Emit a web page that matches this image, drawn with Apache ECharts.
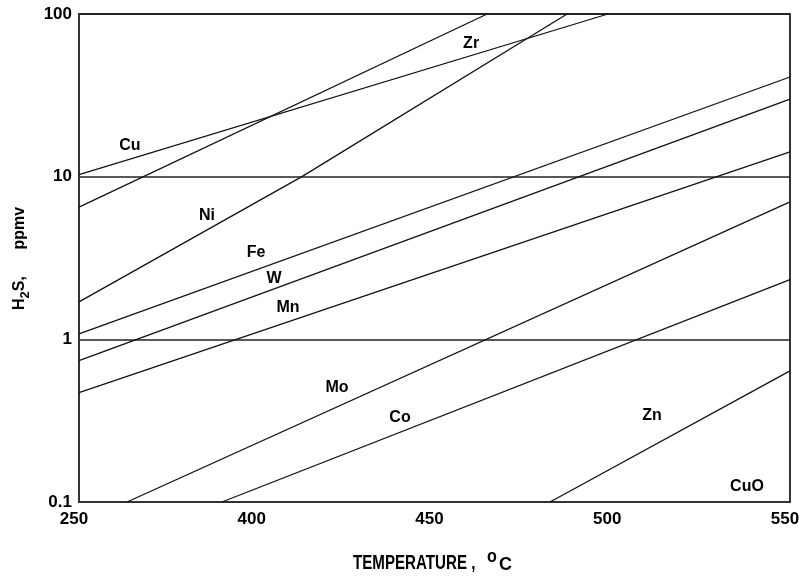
<!DOCTYPE html>
<html>
    <head>
        <meta charset="utf-8">
        <title>H2S vs temperature</title>
        <script src="https://cdn.jsdelivr.net/npm/echarts@6/dist/echarts.min.js"></script>
    </head>
    <body style="margin:0;background:#fff;overflow:hidden;">
        <div id="main" style="width: 799px;height:576px;"></div>
        <script type="text/javascript">
            // tick labels as printed on the chart (first one reads 250)
            var xTickLabels = ['250', '400', '450', '500', '550'];
            var yTickLabels = ['0.1', '1', '10', '100'];

            // line names and the points: [temperature, ppmv]
            var names = ['Cu', 'Zr', 'Ni', 'Fe', 'W', 'Mn', 'Mo', 'Co', 'Zn', 'CuO'];
            var lineCu = [[350, 10.3], [498.8, 100]];
            var lineZr = [[350, 6.5], [464.8, 100]];
            var lineNi = [[350, 1.7], [412.7, 10], [487.3, 100]];
            var lineFe = [[350, 1.08], [550, 41]];
            var lineW  = [[350, 0.74], [550, 30]];
            var lineMn = [[350, 0.47], [550, 14.2]];
            var lineMo = [[363.5, 0.1], [550, 7.0]];
            var lineCo = [[390.2, 0.1], [550, 2.33]];
            var lineZn = [[482.5, 0.1], [550, 0.64]];
            var lineCuO = [];

            var lines = [lineCu, lineZr, lineNi, lineFe, lineW, lineMn, lineMo, lineCo, lineZn, lineCuO];

            // where each name is written, in axis units
            var labelSpots = [
                [364.3, 15.5], [460.3, 65.5], [386.0, 5.75], [399.8, 3.41], [404.9, 2.36],
                [408.8, 1.57], [422.6, 0.505], [440.3, 0.33], [511.2, 0.34], [537.9, 0.1245]
            ];

            var myChart = echarts.init(document.getElementById('main'));

            var boldFont = 'Liberation Sans, Arial, sans-serif';
            var tickFont = {
                color: '#000',
                fontFamily: boldFont,
                fontWeight: 'bold',
                fontSize: 17
            };

            var series = [];
            for (var i = 0; i < lines.length; i++) {
                if (lines[i].length == 0) continue;
                series.push({
                    name: names[i],
                    type: 'line',
                    data: lines[i],
                    showSymbol: false,
                    silent: true,
                    lineStyle: { color: '#111', width: 1.3 }
                });
            }

            var labelData = [];
            for (var j = 0; j < names.length; j++) {
                labelData.push({ value: labelSpots[j], name: names[j] });
            }
            series.push({
                type: 'scatter',
                data: labelData,
                symbolSize: 0,
                silent: true,
                itemStyle: { opacity: 1 },
                label: {
                    show: true,
                    position: 'inside',
                    formatter: '{b}',
                    color: '#000',
                    opacity: 1,
                    textBorderWidth: 0,
                    fontFamily: boldFont,
                    fontWeight: 'bold',
                    fontSize: 16
                }
            });

            var option = {
                animation: false,
                backgroundColor: '#fff',
                grid: {
                    left: 79, right: 9, top: 14, bottom: 74,
                    outerBoundsMode: 'none',
                    containLabel: false,
                    show: true,
                    borderColor: '#333',
                    borderWidth: 2
                },
                xAxis: {
                    type: 'value',
                    min: 350,
                    max: 550,
                    interval: 50,
                    axisLine: { show: true, lineStyle: { color: '#333', width: 2 } },
                    axisTick: { show: false },
                    splitLine: { show: false },
                    axisLabel: Object.assign({
                        margin: 9,
                        padding: [0, 10, 0, 0],
                        formatter: function (v) {
                            return xTickLabels[Math.round((v - 350) / 50)];
                        }
                    }, tickFont)
                },
                yAxis: {
                    type: 'log',
                    logBase: 10,
                    min: 0.1,
                    max: 100,
                    axisLine: { show: true, lineStyle: { color: '#333', width: 2 } },
                    axisTick: { show: false },
                    splitLine: { show: true, lineStyle: { color: '#222', width: 1.5 } },
                    axisLabel: Object.assign({
                        margin: 7,
                        padding: [0, 0, 4, 0],
                        formatter: function (v) {
                            return yTickLabels[Math.round(Math.log10(v)) + 1];
                        }
                    }, tickFont)
                },
                graphic: [
                    {
                        type: 'text',
                        x: 353,
                        y: 574,
                        scaleX: 0.72,
                        style: {
                            text: 'TEMPERATURE ,',
                            fontFamily: boldFont, fontWeight: 'bold', fontSize: 21,
                            verticalAlign: 'bottom', fill: '#000'
                        }
                    },
                    {
                        type: 'text',
                        x: 487,
                        y: 566,
                        scaleX: 0.85,
                        style: {
                            text: 'o',
                            fontFamily: boldFont, fontWeight: 'bold', fontSize: 19,
                            verticalAlign: 'bottom', fill: '#000'
                        }
                    },
                    {
                        type: 'text',
                        x: 499,
                        y: 574,
                        style: {
                            text: 'C',
                            fontFamily: boldFont, fontWeight: 'bold', fontSize: 18,
                            verticalAlign: 'bottom', fill: '#000'
                        }
                    },
                    {
                        type: 'text',
                        x: 12,
                        y: 310,
                        rotation: Math.PI / 2,
                        style: {
                            text: '{a|H}{s|2}{a|S,      ppmv}',
                            rich: {
                                a: { fontFamily: boldFont, fontWeight: 'bold', fontSize: 16, lineHeight: 20, verticalAlign: 'top', fill: '#000' },
                                s: { fontFamily: boldFont, fontWeight: 'bold', fontSize: 13, lineHeight: 20, verticalAlign: 'bottom', fill: '#000' }
                            }
                        }
                    }
                ],
                series: series
            };

            myChart.setOption(option);
        </script>
    </body>
</html>
